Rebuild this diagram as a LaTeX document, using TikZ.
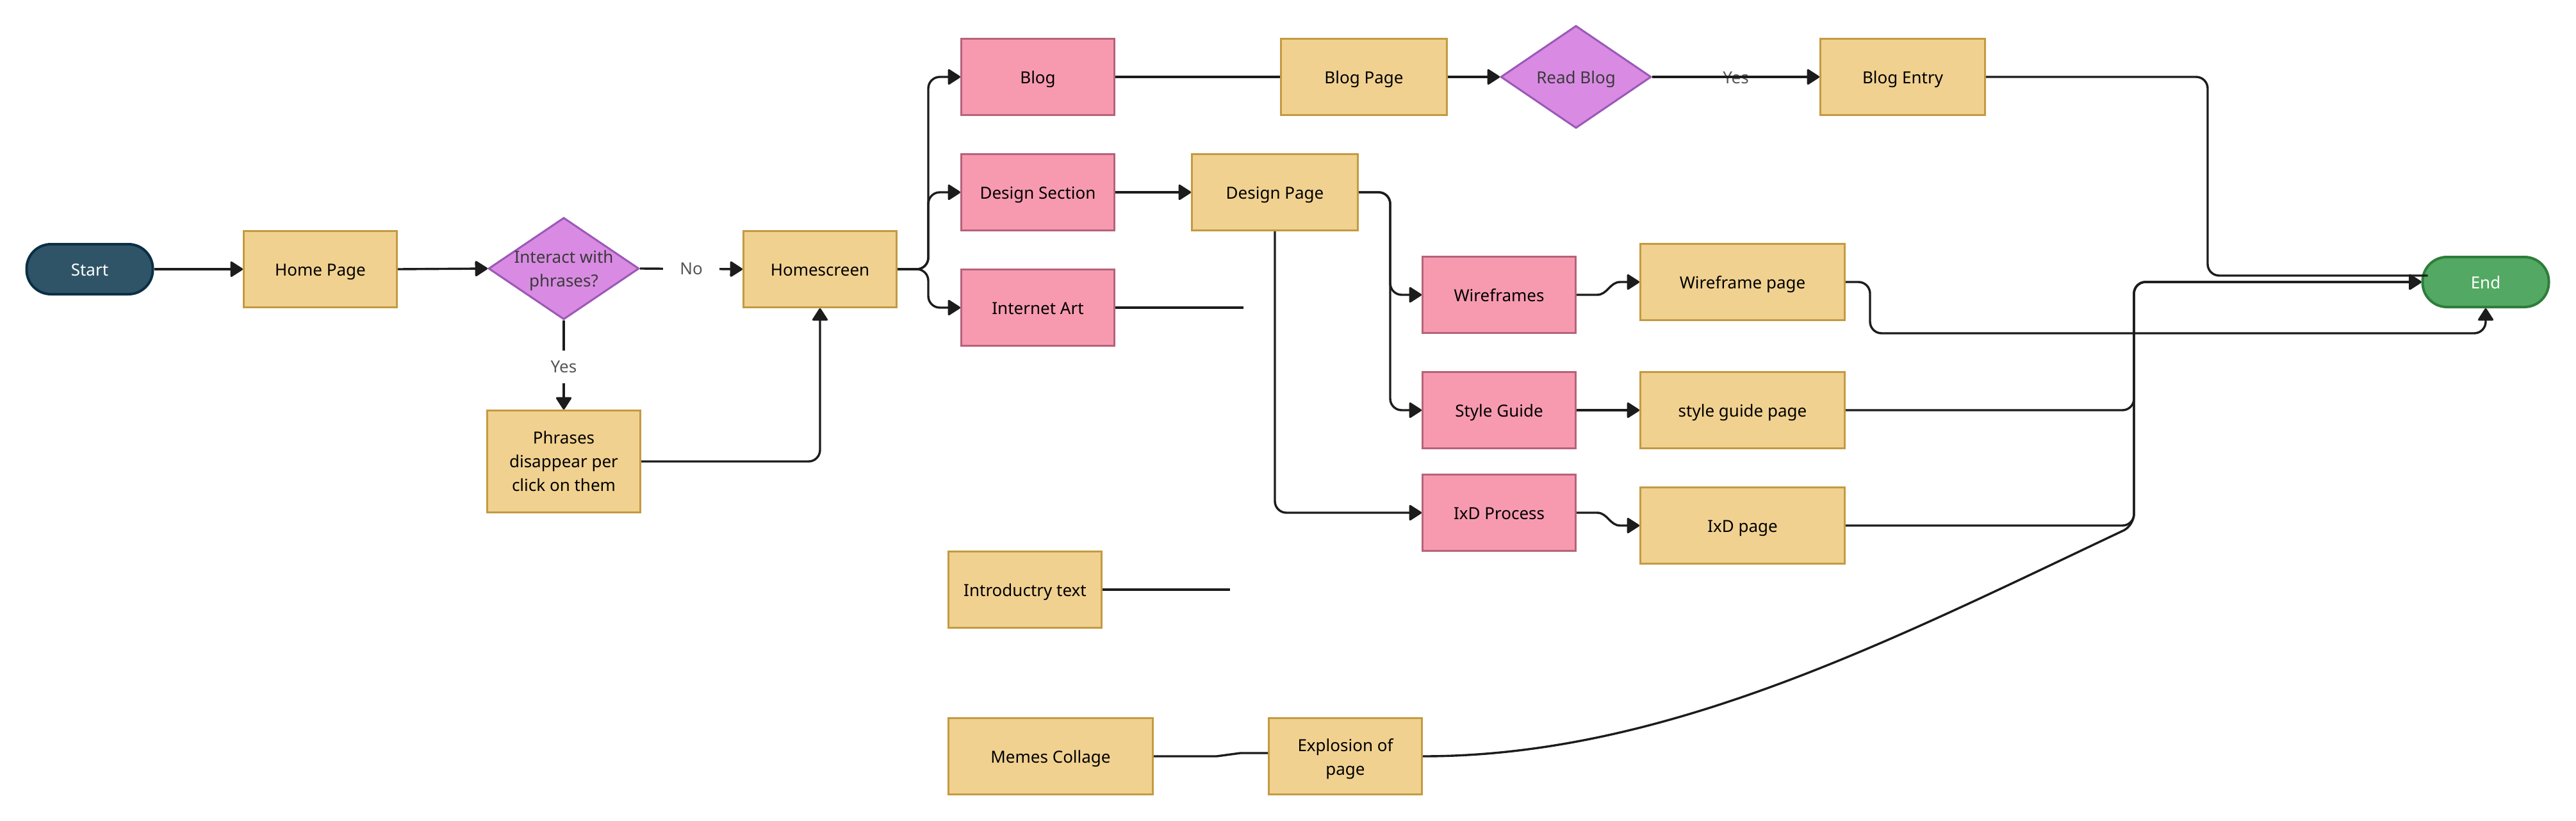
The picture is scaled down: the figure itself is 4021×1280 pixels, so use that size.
\documentclass[tikz,border=0pt]{standalone}
\usepackage{fontspec}
\setmainfont{Noto Sans}
\usetikzlibrary{arrows.meta,shapes.geometric,calc}
\definecolor{yfill}{HTML}{F0D190}
\definecolor{ydraw}{HTML}{C49A42}
\definecolor{pfill}{HTML}{F79AB0}
\definecolor{pdraw}{HTML}{B5637A}
\definecolor{dfill}{HTML}{D98BE3}
\definecolor{ddraw}{HTML}{9B59B6}
\definecolor{sfill}{HTML}{305467}
\definecolor{sdraw}{HTML}{0B2F45}
\definecolor{efill}{HTML}{53A963}
\definecolor{edraw}{HTML}{2E7D3B}
\definecolor{lncol}{HTML}{1C1C1C}
\definecolor{lblcol}{HTML}{555555}
\definecolor{dtxt}{HTML}{3A3A3A}
\begin{document}
\begin{tikzpicture}[x=1pt,y=-1pt,
  font=\fontsize{26pt}{37pt}\selectfont,
  sl/.style={text height=27.8pt, text depth=7.6pt},
  box/.style={rectangle, line width=3pt, minimum height=119pt, inner sep=0pt, align=center, text=black},
  ybox/.style={box, sl, draw=ydraw, fill=yfill, minimum width=#1},
  ybox/.default=239pt,
  ymbox/.style={box, draw=ydraw, fill=yfill, minimum width=239pt},
  pbox/.style={box, sl, draw=pdraw, fill=pfill, minimum width=239pt},
  dec/.style={diamond, draw=ddraw, fill=dfill, line width=3pt, minimum width=235pt, minimum height=159pt, inner sep=0pt},
  dlab/.style={align=center, text=dtxt, inner sep=0pt},
  term/.style={rectangle, sl, rounded corners=38pt, line width=4pt, minimum width=197pt, minimum height=78pt, inner sep=0pt, text=white},
  lab/.style={text=lblcol, fill=white, inner xsep=26pt, inner ysep=16pt},
  conn/.style={draw=lncol, line width=3.4pt},
  arr/.style={conn, -{Triangle[length=21pt,width=26pt,round]}},
  rc/.style={rounded corners=18pt}
]
\fill[white] (0,0) rectangle (4021,1280);
\useasboundingbox (0,0) rectangle (4021,1280);

% nodes
\node[term, draw=sdraw, fill=sfill] (start) at (140,420) {Start};
\node[ybox] (home) at (500,420) {Home Page};
\node[dec, label={[dlab, yshift=-3pt]center:{Interact with\\phrases?}}] (q1) at (880,419) {};
\node[ybox] (hs) at (1280,420) {Homescreen};
\node[ymbox, minimum height=159pt] (ph) at (880,720) {Phrases\\disappear per\\click on them};
\node[pbox] (blog) at (1620,120) {Blog};
\node[pbox] (ds) at (1620,300) {Design Section};
\node[pbox] (ia) at (1620,480) {Internet Art};
\node[ybox=259pt] (bp) at (2129,120) {Blog Page};
\node[dec, minimum height=160pt, label={[dlab, sl]center:{Read Blog}}] (q2) at (2460,120) {};
\node[ybox=257pt] (be) at (2970,120) {Blog Entry};
\node[ybox=259pt] (dp) at (1990,300) {Design Page};
\node[pbox] (wf) at (2340,460) {Wireframes};
\node[ybox=319pt] (wfp) at (2720,440) {Wireframe page};
\node[pbox] (sg) at (2340,640) {Style Guide};
\node[ybox=319pt] (sgp) at (2720,640) {style guide page};
\node[pbox] (ixd) at (2340,800) {IxD Process};
\node[ybox=319pt] (ixdp) at (2720,820) {IxD page};
\node[ybox] (intro) at (1600,920) {Introductry text};
\node[ybox=319pt] (memes) at (1640,1180) {Memes Collage};
\node[ymbox] (expl) at (2100,1180) {};
\node[align=center, inner sep=0pt] (expltext) at ([yshift=-4pt]expl.center) {Explosion of\\page};
\node[term, draw=edraw, fill=efill] (end) at (3880,440) {End};

% helper coordinates
\coordinate (hsx) at (1449,420);
\coordinate (dpx) at (2170,300);
\coordinate (iaend) at (1941,480);
\coordinate (introend) at (1920,920);
\coordinate (beturn) at (3446,430);
\coordinate (bus) at (3331,440);
\coordinate (busb) at (3331,820);
\coordinate (wfturn) at (2919,520);

% connectors
\draw[arr] (start.east) -- (home.west);
\draw[arr] (home.east) -- (q1.west);
\draw[arr] (q1.east) -- node[lab] {No} (hs.west);
\draw[arr] (q1.south) -- node[lab, pos=0.52] {Yes} (ph.north);
\draw[arr, rc] (ph.east) -| (hs.south);
\draw[arr, rc] (hs.east) -- (hsx) |- (blog.west);
\draw[arr, rc] (hs.east) -- (hsx) |- (ds.west);
\draw[arr, rc] (hs.east) -- (hsx) |- (ia.west);
\draw[conn] (blog.east) -- (bp.west);
\draw[arr] (bp.east) -- (q2.west);
\node[text=lblcol, sl, inner sep=0pt] (yes2) at ($(q2.east)!0.5!(be.west)$) {Yes};
\draw[arr] (q2.east) -- (be.west);
\draw[conn, rc] (be.east) -| (beturn) -- ([shift={(10pt,10pt)}]end.west);
\draw[arr] (ds.east) -- (dp.west);
\draw[conn] (ia.east) -- (iaend);
\draw[arr, rc] (dp.east) -- (dpx) |- (wf.west);
\draw[arr, rc] (dp.east) -- (dpx) |- (sg.west);
\draw[arr, rc] (dp.south) |- (ixd.west);
\draw[arr] (wf.east) -- ++(32,0) to[out=0,in=180] ++(36,-20) -- (wfp.west);
\draw[arr] (sg.east) -- (sgp.west);
\draw[arr] (ixd.east) -- ++(32,0) to[out=0,in=180] ++(36,20) -- (ixdp.west);
\draw[arr, rc] (wfp.east) -| (wfturn) -| (end.south);
\draw[arr, rc] (sgp.east) -| (bus) -- (end.west);
\draw[arr, rc] (ixdp.east) -| (bus) -- (end.west);
\draw[arr, rc] (expl.east) .. controls +(379,0) and ([shift={(-381,180)}]busb) .. (busb) -- (bus) -- (end.west);
\draw[conn] (intro.east) -- (introend);
\draw[conn] (memes.east) -- ++(98,0) -- ++(37,-5) -- ([yshift=5pt]expl.west);
\end{tikzpicture}
\end{document}
